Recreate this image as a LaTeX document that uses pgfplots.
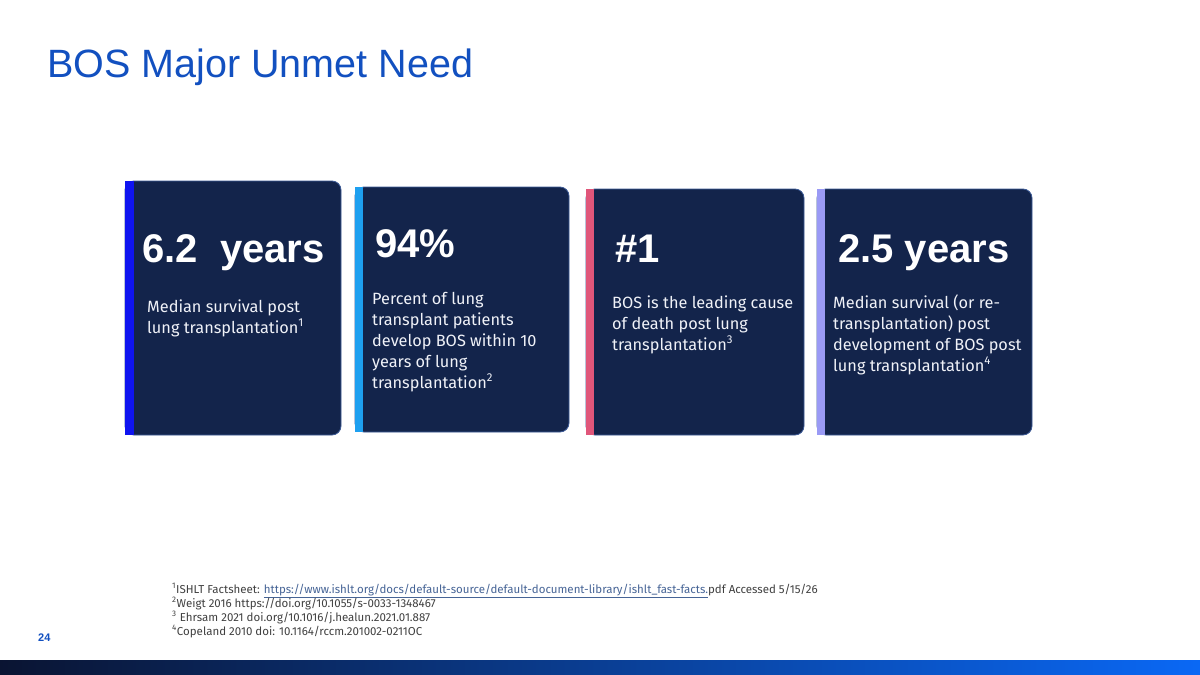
\documentclass[border=0pt]{standalone}
\usepackage{fontspec}
\setmainfont{Liberation Sans}
\newfontfamily\bodyfont{Fira Sans}
\usepackage{pgfplots}
\pgfplotsset{compat=1.18}

\definecolor{titleblue}{RGB}{18,80,192}
\definecolor{cardnavy}{RGB}{19,36,75}
\definecolor{cardedge}{RGB}{60,90,150}
\definecolor{accA}{RGB}{15,20,240}
\definecolor{accB}{RGB}{30,160,240}
\definecolor{accC}{RGB}{224,86,122}
\definecolor{accD}{RGB}{154,154,245}
\definecolor{bodywhite}{RGB}{240,242,248}
\definecolor{notegray}{RGB}{64,64,64}
\definecolor{linkblue}{RGB}{70,100,150}
\definecolor{barL}{RGB}{10,20,50}
\definecolor{barM}{RGB}{6,70,190}
\definecolor{barR}{RGB}{10,104,245}

% card outlines, pixel coordinates of the slide (y downwards)
\pgfplotstableread{
x y
125 181
341 181
341 435
125 435
}\cardA
\pgfplotstableread{
x y
355 187
569 187
569 432
355 432
}\cardB
\pgfplotstableread{
x y
586 189
804 189
804 435
586 435
}\cardC
\pgfplotstableread{
x y
817 189
1032 189
1032 435
817 435
}\cardD

\newcommand{\bigfig}[3]{\node[anchor=base west,inner sep=0pt,text=white,
  font=\fontsize{40}{44}\selectfont\bfseries] at (axis cs:#1,#2) {#3};}
\newcommand{\cardtext}[3]{\node[anchor=base west,inner sep=0pt,text=bodywhite,
  font=\bodyfont\fontsize{16.3}{21}\selectfont] at (axis cs:#1,#2) {#3};}
\newcommand{\refline}[2]{\node[anchor=base west,inner sep=0pt,text=notegray,
  font=\bodyfont\fontsize{11.5}{14}\selectfont] at (axis cs:172,#1) {#2};}

\begin{document}
\begin{tikzpicture}
\begin{axis}[
    scale only axis,
    width=1200pt, height=675pt,
    xmin=0, xmax=1200, ymin=0, ymax=675,
    y dir=reverse,
    axis lines=none, ticks=none,
    clip=false,
]
% background
\addplot[fill=white, draw=none] coordinates {(0,0) (1200,0) (1200,675) (0,675)} --cycle;

% cards
\addplot[fill=cardnavy, draw=cardedge, line width=0.8pt, rounded corners=9pt] table {\cardA} --cycle;
\addplot[fill=cardnavy, draw=cardedge, line width=0.8pt, rounded corners=9pt] table {\cardB} --cycle;
\addplot[fill=cardnavy, draw=cardedge, line width=0.8pt, rounded corners=9pt] table {\cardC} --cycle;
\addplot[fill=cardnavy, draw=cardedge, line width=0.8pt, rounded corners=9pt] table {\cardD} --cycle;

% accent strips
\addplot[fill=accA, draw=none] coordinates {(125,181) (134,181) (134,435) (125,435)} --cycle;
\addplot[fill=accB, draw=none] coordinates {(355,187) (363,187) (363,432) (355,432)} --cycle;
\addplot[fill=accC, draw=none] coordinates {(586,189) (594,189) (594,435) (586,435)} --cycle;
\addplot[fill=accD, draw=none] coordinates {(817,189) (825,189) (825,435) (817,435)} --cycle;

% bottom band
\addplot[draw=none, left color=barL, middle color=barM, right color=barR]
  coordinates {(0,660) (1200,660) (1200,675) (0,675)} --cycle;

% title
\node[anchor=base west, inner sep=0pt, text=titleblue, font=\fontsize{39.5}{44}\selectfont]
  at (axis cs:47,77) {BOS Major Unmet Need};

% big figures
\bigfig{142}{262}{6.2\ \ years}
\bigfig{375}{257}{94\%}
\bigfig{615}{262}{\#1}
\bigfig{838}{262}{2.5 years}

% card texts
\cardtext{147}{312}{Median survival post}
\cardtext{147}{333}{lung transplantation\textsuperscript{1}}

\cardtext{372}{304}{Percent of lung}
\cardtext{372}{325}{transplant patients}
\cardtext{372}{346}{develop BOS within 10}
\cardtext{372}{367}{years of lung}
\cardtext{372}{388}{transplantation\textsuperscript{2}}

\cardtext{612}{308}{BOS is the leading cause}
\cardtext{612}{329}{of death post lung}
\cardtext{612}{350}{transplantation\textsuperscript{3}}

\cardtext{833}{308}{Median survival (or re-}
\cardtext{833}{329}{transplantation) post}
\cardtext{833}{350}{development of BOS post}
\cardtext{833}{371}{lung transplantation\textsuperscript{4}}

% references
\refline{593}{\textsuperscript{1}ISHLT Factsheet: \textcolor{linkblue}{\underline{https://www.ishlt.org/docs/default-source/default-document-library/ishlt\_fast-facts.}}pdf Accessed 5/15/26}
\refline{607}{\textsuperscript{2}Weigt 2016 https://doi.org/10.1055/s-0033-1348467}
\refline{621}{\textsuperscript{3} Ehrsam 2021 doi.org/10.1016/j.healun.2021.01.887}
\refline{635}{\textsuperscript{4}Copeland 2010 doi: 10.1164/rccm.201002-0211OC}

% page number
\node[anchor=base west, inner sep=0pt, text=titleblue, font=\fontsize{11}{13}\selectfont\bfseries]
  at (axis cs:38,641) {24};
\end{axis}
\end{tikzpicture}
\end{document}
